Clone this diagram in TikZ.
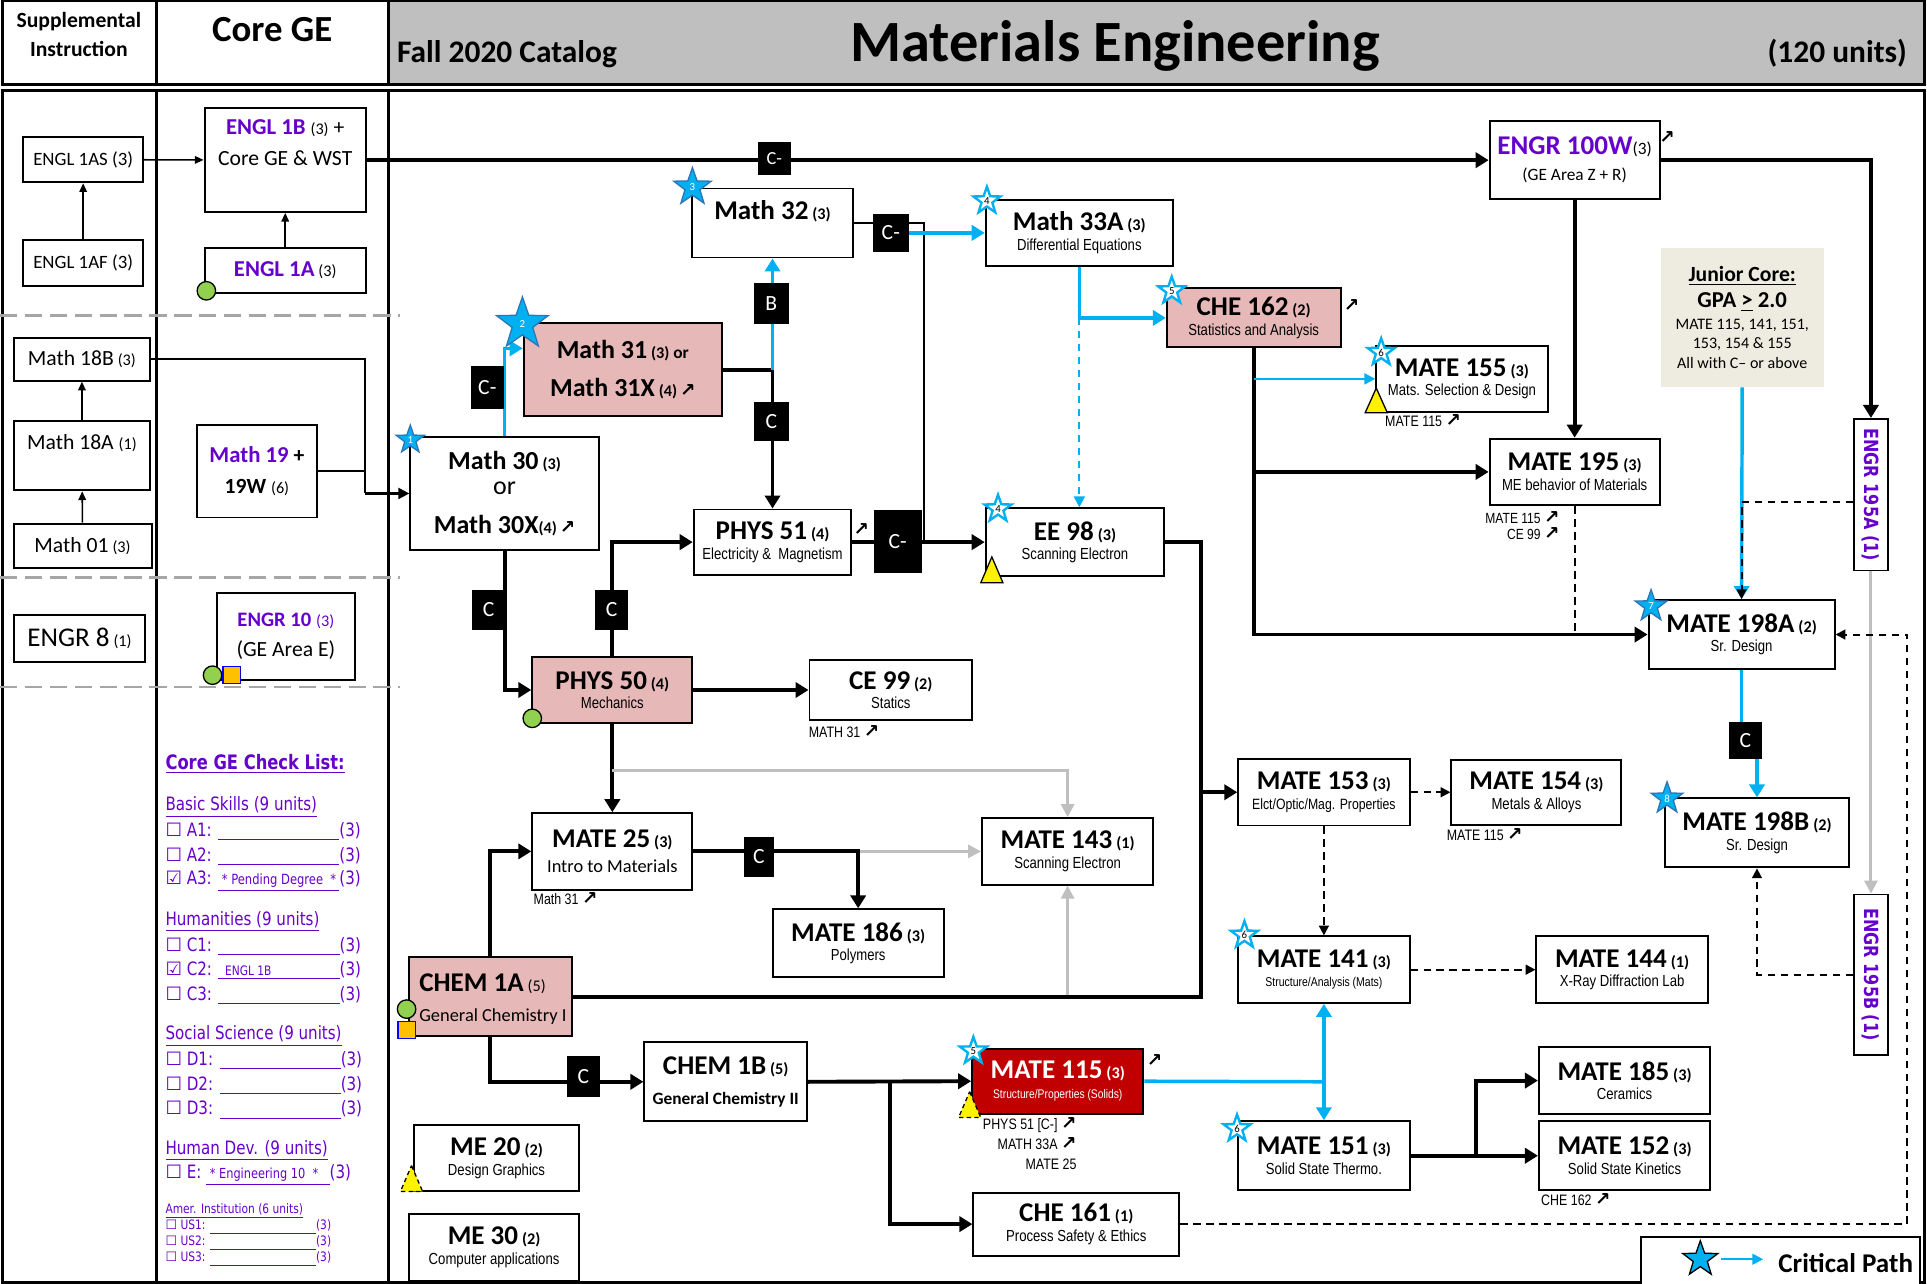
\documentclass[tikz,border=0pt]{standalone}
\usepackage{fontspec}
\setmainfont{Carlito}
\newfontfamily\narrowfont[FakeStretch=0.82]{Liberation Sans}
\newfontfamily\checkfont[FakeStretch=0.82]{DejaVu Sans}
\newfontfamily\arrowsymfont{DejaVu Sans}
\usetikzlibrary{shapes.geometric,arrows.meta}

\definecolor{hdrgray}{HTML}{BFBFBF}
\definecolor{pinkfill}{HTML}{E6B9B8}
\definecolor{redfill}{HTML}{C00000}
\definecolor{critblue}{HTML}{00B0F0}
\definecolor{stardark}{HTML}{2E75B6}
\definecolor{gepurple}{HTML}{6600CC}
\definecolor{corefill}{HTML}{EEECE1}
\definecolor{linegray}{HTML}{BFBFBF}
\definecolor{sepgray}{HTML}{A6A6A6}
\definecolor{dotgreen}{HTML}{92D050}
\definecolor{sqorange}{HTML}{FFC000}

% small helpers for the course boxes
\newcommand\upar{{\arrowsymfont\bfseries\fontsize{8.5}{8}\selectfont ↗}}
\newcommand\unitsm[1]{{\fontsize{7.5}{8}\selectfont(#1)}}
\newcommand\subttl[2][7.4]{{\narrowfont\fontsize{#1}{8}\selectfont #2}}
\newcommand\crstitle[2]{{\bfseries\fontsize{12.5}{13}\selectfont #1} {\bfseries\unitsm{#2}}}
\newcommand\crs[4][7.4]{\crstitle{#2}{#3}\\\subttl[#1]{#4}}
\newcommand\chkbox{{\arrowsymfont ☐}}
\newcommand\chkdone{{\arrowsymfont ☑}}
\newcommand\blankln[2]{\underline{\makebox[#1][l]{#2}}}

\begin{document}
\begin{tikzpicture}[
    x = 0.02cm,
    y = -0.02cm,
    box/.style = {draw, line width=0.9pt, fill=white, align=center,
              inner sep=1pt, font=\fontsize{8}{9}\selectfont},
    pinkbox/.style = {box, fill=pinkfill},
    boxsize/.style 2 args = {minimum width=#1*0.02cm, minimum height=#2*0.02cm},
    gradebox/.style = {fill=black, text=white, inner sep=0pt,
              font=\fontsize{10}{10}\selectfont},
    frame/.style = {line width=1.3pt},
    sepline/.style = {sepgray, line width=1.2pt, dash pattern=on 8pt off 3.5pt},
    thinarrow/.style = {line width=0.7pt, -{Triangle[length=4pt,width=3.5pt]}},
    medline/.style = {line width=1pt},
    medarrow/.style = {medline, -{Triangle[length=5pt,width=5pt]}},
    thickline/.style = {line width=1.8pt},
    thickarrow/.style = {thickline, -{Triangle[length=6pt,width=7pt]}},
    critline/.style = {critblue, line width=1.6pt},
    critarrow/.style = {critline, -{Triangle[length=6pt,width=7pt]}},
    critthin/.style = {critblue, line width=1pt, -{Triangle[length=5pt,width=5pt]}},
    critdash/.style = {critblue, line width=1pt, dash pattern=on 3.5pt off 2.5pt,
              -{Triangle[length=5pt,width=5pt]}},
    dashline/.style = {line width=0.9pt, dash pattern=on 3.5pt off 2.5pt},
    dasharrow/.style = {dashline, -{Triangle[length=4.5pt,width=4.5pt]}},
    grayarrow/.style = {linegray, line width=1.4pt, -{Triangle[length=6pt,width=6pt]}},
    fullstar/.style = {star, star points=5, star point ratio=2.5, fill=critblue,
              draw=stardark, line width=0.6pt, inner sep=0pt, text=white,
              font=\fontsize{5}{5}\selectfont},
    openstar/.style = {fullstar, fill=white, draw=critblue, line width=1.1pt, text=black},
    gedot/.style = {circle, fill=dotgreen, draw=black, line width=0.6pt,
              inner sep=0pt, minimum size=15*0.02cm},
    gesquare/.style = {rectangle, fill=sqorange, draw=blue, line width=0.6pt,
              inner sep=0pt, minimum size=14*0.02cm},
    warntri/.style = {fill=yellow, draw=black, line width=0.6pt},
    note/.style = {inner sep=0pt, font=\narrowfont\fontsize{7}{9.1}\selectfont},
    hdrtext/.style = {inner sep=0pt, font=\bfseries\fontsize{14.5}{15}\selectfont},
    checkitem/.style = {anchor=west, inner sep=0pt, text=gepurple,
              font=\checkfont\fontsize{8.5}{9}\selectfont},
    checksmall/.style = {checkitem, font=\checkfont\fontsize{6}{6}\selectfont},
    ]
\useasboundingbox (0,0) rectangle (1564,1042);

% header row
\fill[hdrgray] (315,0.7) rectangle (1562,68.5);
\draw[frame] (2,0.7) rectangle (1562,68.5);
\draw[frame] (127,0.7) -- (127,68.5);
\draw[frame] (315,0.7) -- (315,68.5);
\node[hdrtext, font=\bfseries\fontsize{10}{10}\selectfont, anchor=base] (supp) at (64,22) {Supplemental};
\node[hdrtext, font=\bfseries\fontsize{10}{10}\selectfont, anchor=base] (instr) at (64,46) {Instruction};
\node[hdrtext, font=\bfseries\fontsize{17}{17}\selectfont, anchor=base] (coregehdr) at (221,34) {Core GE};
\node[hdrtext, anchor=base west] (catalog) at (322,51) {Fall 2020 Catalog};
\node[hdrtext, font=\bfseries\fontsize{27}{27}\selectfont, anchor=base] (title) at (905,50) {Materials Engineering};
\node[hdrtext, anchor=base east] (units) at (1548,51) {(120 units)};

% body frame
\draw[frame] (2,73.5) rectangle (1562,1041);
\draw[frame] (127,73.5) -- (127,1041);
\draw[frame] (315,73.5) -- (315,1041);
\draw[sepline] (0,256) -- (325,256);
\draw[sepline] (0,468.5) -- (325,468.5);
\draw[sepline] (0,557.5) -- (325,557.5);

% supplemental column
\node[box, boxsize={97}{37}, font=\fontsize{8.7}{9}\selectfont] (engl1as) at (67.5,129.5) {ENGL 1AS (3)};
\node[box, boxsize={97}{37}, font=\fontsize{8.7}{9}\selectfont] (engl1af) at (67.5,213.5) {ENGL 1AF (3)};
\node[box, boxsize={111}{35}] (math18b) at (66.5,291.5) {{\fontsize{10}{10}\selectfont Math 18B} \unitsm{3}};
\node[box, boxsize={111}{56}] (math18a) at (66.5,370) {};
\node[inner sep=0pt] (math18atext) at (66.5,360) {{\fontsize{10}{10}\selectfont Math 18A} \unitsm{1}};
\node[box, boxsize={112}{36}] (math01) at (67,443) {{\fontsize{10}{10}\selectfont Math 01} \unitsm{3}};
\node[box, boxsize={107}{38}] (engr8) at (64.5,518) {{\fontsize{12.5}{13}\selectfont ENGR 8} \unitsm{1}};

% core GE column
\node[box, boxsize={131}{84}] (engl1b) at (231.5,130) {};
\node[anchor=north, align=center, inner sep=0pt, font=\fontsize{10}{14}\selectfont] (engl1btext) at (231.5,97)
    {{\color{gepurple}\bfseries\fontsize{10.5}{11}\selectfont ENGL 1B} \unitsm{3} +\\Core GE \& WST};
\node[box, boxsize={131}{37}] (engl1a) at (231.5,219.5) {{\color{gepurple}\bfseries\fontsize{10.5}{11}\selectfont ENGL 1A} \unitsm{3}};
\node[box, boxsize={97}{75}, font=\fontsize{10}{14}\selectfont] (math19) at (208.5,382.5)
    {{\color{gepurple}\bfseries\fontsize{10.5}{11}\selectfont Math 19} \textbf{+}\\\textbf{19W} \unitsm{6}};
\node[box, boxsize={112}{71}, font=\fontsize{10}{14}\selectfont] (engr10) at (232,516.5)
    {{\color{gepurple}\bfseries\fontsize{9.5}{10}\selectfont ENGR 10} {\color{gepurple}\unitsm{3}}\\(GE Area E)};

% check list
\node[checkitem, font=\checkfont\bfseries\fontsize{9.2}{9}\selectfont] (chktitle) at (134,620) {\underline{Core GE Check List:}};
\node[checkitem] (chkbasic) at (134,655) {\underline{Basic Skills (9 units)}};
\node[checkitem] (chka1) at (134,675) {\chkbox\ A1: \blankln{56pt}{}(3)};
\node[checkitem] (chka2) at (134,695) {\chkbox\ A2: \blankln{56pt}{}(3)};
\node[checkitem] (chka3) at (134,715) {\chkdone\ A3: \blankln{56pt}{\fontsize{6.5}{7}\selectfont\ * Pending Degree\ \ *}(3)};
\node[checkitem] (chkhum) at (134,748) {\underline{Humanities (9 units)}};
\node[checkitem] (chkc1) at (134,768) {\chkbox\ C1: \blankln{56pt}{}(3)};
\node[checkitem] (chkc2) at (134,788) {\chkdone\ C2: \blankln{56pt}{\fontsize{6}{6}\selectfont\ \ ENGL 1B}(3)};
\node[checkitem] (chkc3) at (134,808) {\chkbox\ C3: \blankln{56pt}{}(3)};
\node[checkitem] (chksoc) at (134,841) {\underline{Social Science (9 units)}};
\node[checkitem] (chkd1) at (134,861) {\chkbox\ D1: \blankln{56pt}{}(3)};
\node[checkitem] (chkd2) at (134,881) {\chkbox\ D2: \blankln{56pt}{}(3)};
\node[checkitem] (chkd3) at (134,901) {\chkbox\ D3: \blankln{56pt}{}(3)};
\node[checkitem] (chkhd) at (134,934) {\underline{Human Dev. (9 units)}};
\node[checkitem] (chke) at (134,954) {\chkbox\ E: \blankln{57pt}{\fontsize{6.4}{7}\selectfont\ * Engineering 10\ \ *}(3)};
\node[checksmall] (chkamer) at (134,983) {\underline{Amer. Institution (6 units)}};
\node[checksmall] (chkus1) at (134,996) {\chkbox\ US1: \blankln{49pt}{}(3)};
\node[checksmall] (chkus2) at (134,1009) {\chkbox\ US2: \blankln{49pt}{}(3)};
\node[checksmall] (chkus3) at (134,1022) {\chkbox\ US3: \blankln{49pt}{}(3)};

% course boxes
\node[box, boxsize={153}{91}, font=\fontsize{8}{11.4}\selectfont] (math30) at (409.5,400.5)
    {{\bfseries\fontsize{12}{13}\selectfont Math 30} {\bfseries\unitsm{3}}\\
     {\fontsize{12}{13}\selectfont or}\\[6.5pt]
     {\bfseries\fontsize{12}{13}\selectfont Math 30X}{\bfseries\unitsm{4}}\,\upar};
\node[pinkbox, boxsize={161}{76}, font=\fontsize{8}{17.6}\selectfont] (math31) at (505.5,300)
    {{\bfseries\fontsize{12}{13}\selectfont Math 31} {\bfseries\unitsm{3} or}\\
     {\bfseries\fontsize{12}{13}\selectfont Math 31X} {\bfseries\unitsm{4}}\,\upar};
\node[box, boxsize={131}{56}] (math32) at (627,181) {\crstitle{Math 32}{3}\\\strut};
\node[box, boxsize={152}{54}] (math33a) at (876,189) {\crs{Math 33A}{3}{Differential Equations}};
\node[pinkbox, boxsize={141}{48}] (che162) at (1017.5,258) {\crs{CHE 162}{2}{Statistics and Analysis}};
\node[box, boxsize={138}{63}, font=\fontsize{8}{12}\selectfont] (engr100w) at (1278,130)
    {{\color{gepurple}\bfseries\fontsize{12.5}{13}\selectfont ENGR 100W}{\fontsize{8}{8}\selectfont(3)}\\(GE Area Z + R)};
\node[box, boxsize={139}{53}] (mate155) at (1186.5,307.5) {\crs{MATE 155}{3}{Mats. Selection \& Design}};
\node[box, boxsize={138}{54}] (mate195) at (1278,383) {\crs{MATE 195}{3}{ME behavior of Materials}};
\node[fill=corefill, boxsize={132}{113}, align=center, inner sep=0pt, font=\fontsize{7.4}{9.1}\selectfont] (juniorcore) at (1414,257.5)
    {{\bfseries\fontsize{10}{12}\selectfont\underline{Junior Core:}}\\[2.9pt]
     {\bfseries\fontsize{10.5}{12}\selectfont GPA \underline{>} 2.0}\\[1.1pt]
     MATE 115, 141, 151,\\
     153, 154 \& 155\\
     All with C– or above};
\node[box, boxsize={27}{123}] (engr195a) at (1518.5,401.5) {};
\node[rotate=-90, inner sep=0pt, text=gepurple, font=\checkfont\bfseries\fontsize{9}{9}\selectfont] (engr195atext) at (engr195a) {ENGR 195A (1)};
\node[box, boxsize={27}{130}] (engr195b) at (1518.5,791) {};
\node[rotate=-90, inner sep=0pt, text=gepurple, font=\checkfont\bfseries\fontsize{9}{9}\selectfont] (engr195btext) at (engr195b) {ENGR 195B (1)};
\node[box, boxsize={151}{56}] (mate198a) at (1413.5,515) {\crs{MATE 198A}{2}{Sr. Design}};
\node[box, boxsize={150}{56}] (mate198b) at (1426,676) {\crs{MATE 198B}{2}{Sr. Design}};
\node[box, boxsize={128}{53}] (phys51) at (627,440) {\crs{PHYS 51}{4}{Electricity \&\ \ Magnetism}};
\node[box, boxsize={145}{55}] (ee98) at (872.5,440) {\crs{EE 98}{3}{Scanning Electron}};
\node[pinkbox, boxsize={130}{54}] (phys50) at (497,560) {\crs{PHYS 50}{4}{Mechanics}};
\node[box, boxsize={132}{49}] (ce99) at (723,560) {\crs{CE 99}{2}{Statics}};
\node[box, boxsize={130}{62}, font=\fontsize{8}{11.4}\selectfont] (mate25) at (497,691)
    {\crstitle{MATE 25}{3}\\{\fontsize{8.5}{9}\selectfont Intro to Materials}};
\node[box, boxsize={139}{54}] (mate143) at (866.5,691) {\crs{MATE 143}{1}{Scanning Electron}};
\node[box, boxsize={139}{55}] (mate186) at (696.5,765.5) {\crs{MATE 186}{3}{Polymers}};
\node[pinkbox, boxsize={132}{64}] (chem1a) at (398,809) {};
\node[anchor=west, align=left, inner sep=0pt, font=\fontsize{8}{13.7}\selectfont] (chem1atext) at (340,811)
    {{\bfseries\fontsize{12.5}{13}\selectfont CHEM 1A} \unitsm{5}\\{\fontsize{8.5}{9}\selectfont General Chemistry I}};
\node[box, boxsize={132}{64}, font=\fontsize{8}{14}\selectfont] (chem1b) at (589,878)
    {\crstitle{CHEM 1B}{5}\\{\bfseries\fontsize{8}{9}\selectfont General Chemistry II}};
\node[box, fill=redfill, text=white, boxsize={139}{53}] (mate115) at (858.5,877.5) {\crs[5.8]{MATE 115}{3}{Structure/Properties (Solids)}};
\node[box, boxsize={139}{54}] (mate153) at (1074.5,643) {\crs[6.9]{MATE 153}{3}{Elct/Optic/Mag. Properties}};
\node[box, boxsize={138}{53}] (mate154) at (1247,643) {\crs{MATE 154}{3}{Metals \& Alloys}};
\node[box, boxsize={139}{54}] (mate141) at (1074.5,787) {\crs[5.9]{MATE 141}{3}{Structure/Analysis (Mats)}};
\node[box, boxsize={139}{54}] (mate144) at (1316.5,787) {\crs{MATE 144}{1}{X-Ray Diffraction Lab}};
\node[box, boxsize={139}{56}] (mate151) at (1074.5,938) {\crs{MATE 151}{3}{Solid State Thermo.}};
\node[box, boxsize={139}{54}] (mate185) at (1318.5,877) {\crs{MATE 185}{3}{Ceramics}};
\node[box, boxsize={139}{56}] (mate152) at (1318.5,938) {\crs{MATE 152}{3}{Solid State Kinetics}};
\node[box, boxsize={167}{51}] (che161) at (873.5,993.5) {\crs{CHE 161}{1}{Process Safety \& Ethics}};
\node[box, boxsize={134}{54}] (me20) at (403,940) {\crs{ME 20}{2}{Design Graphics}};
\node[box, boxsize={138}{55}] (me30) at (401,1012.5) {\crs{ME 30}{2}{Computer applications}};

% prerequisite notes
\node[note] (che162arrow) at (1097,248) {\upar};
\node[note] (engr100warrow) at (1353,112) {\upar};
\node[note] (phys51arrow) at (699,430) {\upar};
\node[note] (mate115arrow) at (937,861) {\upar};
\node[note] (mate155note) at (1155,341) {MATE 115 \upar};
\node[note, align=right, anchor=north east, font=\narrowfont\fontsize{6.8}{7.1}\selectfont] (mate195note) at (1266,415) {MATE 115 \upar\\CE 99 \upar};
\node[note] (ce99note) at (685,594) {MATH 31 \upar};
\node[note] (mate25note) at (459,729) {Math 31 \upar};
\node[note, align=right, anchor=north east] (mate115note) at (874,907) {PHYS 51 [C-] \upar\\MATH 33A \upar\\MATE 25};
\node[note] (mate154note) at (1205,677) {MATE 115 \upar};
\node[note] (mate152note) at (1279,974) {CHE 162 \upar};

% connectors
\draw[thinarrow] (engl1af) -- (engl1as);
\draw[thinarrow] (engl1as) -- (engl1b);
\draw[thinarrow] (engl1a) -- (engl1b);
\draw[thinarrow] (math18a) -- (math18b);
\draw[thinarrow] (math01) -- (math18a);
\coordinate (join30) at (296,400.5);
\draw[medline] (math18b.east) -| (join30);
\draw[medline] (math19.east) -| (join30);
\draw[medarrow] (join30) -- (math30.west);
\draw[thickarrow] (engl1b.east) -- (engr100w.west);
\draw[critarrow] (math30.north) |- (math31.168);
\coordinate (join31) at (627,300);
\draw[thickline] (math31.east) -- (join31);
\draw[critarrow] (join31) -- (math32.south);
\draw[thickarrow] (join31) -- (phys51.north);
\coordinate (join32) at (750,181);
\coordinate (join51) at (750,440);
\draw[medline] (math32.east) -- (join32) -- (join51);
\draw[thickarrow] (phys51.east) -- (ee98.west);
\draw[critarrow] (math33a.south) |- (che162.west);
\coordinate (join33) at (876,258);
\draw[critdash] (join33) -- (join33 |- ee98.north);
\draw[thickarrow] (che162.south) |- (mate198a.west);
\draw[thickarrow] (che162.south |- mate195.west) -- (mate195.west);
\draw[critthin] (che162.south |- mate155.west) -- (mate155.west);
\draw[thickarrow] (engr100w.south) -- (mate195.north);
\draw[thickarrow] (engr100w.east) -| (engr195a.north);
\draw[dashline] (mate195.south) -- (mate195.south |- mate198a.west);
\draw[critarrow] (juniorcore.south) -- (mate198a.north);
\draw[dasharrow] (engr195a.202) -| (mate198a.north);
\draw[grayarrow] (engr195a.south) -- (engr195b.north);
\coordinate (join198) at (1413.5,601);
\draw[critline] (mate198a.south) -- (join198);
\draw[critarrow] (join198 -| mate198b.north) -- (mate198b.north);
\draw[dasharrow] (engr195b.west) -| (mate198b.south);
\coordinate (joinright) at (1548,515);
\draw[dasharrow] (che161.east) -| (joinright) -- (mate198a.east);
\draw[thickarrow] (math30.south) |- (phys50.west);
\draw[thickarrow] (phys50.north) |- (phys51.west);
\draw[thickarrow] (phys50.east) -- (ce99.west);
\draw[thickarrow] (phys50.south) -- (mate25.north);
\coordinate (joingray) at (497,625);
\draw[grayarrow] (joingray) -| (mate143.north);
\draw[grayarrow] (mate186.north |- mate25.east) -- (mate143.west);
\draw[thickarrow] (mate25.east) -| (mate186.north);
\draw[thickarrow] (chem1a.north) |- (mate25.west);
\draw[grayarrow] (mate143.south |- chem1a.east) -- (mate143.south);
\coordinate (joinmid) at (975,643);
\draw[thickline] (ee98.east) -| (joinmid);
\draw[thickline] (chem1a.east) -| (joinmid);
\draw[thickarrow] (joinmid) -- (mate153.west);
\draw[thickarrow] (chem1a.south) |- (chem1b.west);
\coordinate (join1b) at (722,878);
\draw[thickarrow] (chem1b.east) -- (mate115.west);
\draw[thickarrow] (join1b) |- (che161.west);
\coordinate (join115) at (1074.5,878);
\draw[critline] (mate115.east) -- (join115);
\draw[critarrow] (join115) -- (mate141.south);
\draw[critarrow] (join115) -- (mate151.north);
\draw[dasharrow] (mate153.east) -- (mate154.west);
\draw[dasharrow] (mate153.south) -- (mate141.north);
\draw[dasharrow] (mate141.east) -- (mate144.west);
\coordinate (join151) at (1198,938);
\draw[thickarrow] (mate151.east) -- (mate152.west);
\draw[thickarrow] (join151) |- (mate185.west);

% grade boxes on the connectors
\node[gradebox, boxsize={27}{27}, font=\fontsize{8.5}{9}\selectfont] (cengl1b) at (628.5,128.5) {C-};
\node[gradebox, boxsize={27}{35}] (cmath30) at (395.5,314.5) {C-};
\node[gradebox, boxsize={28}{33}] (bmath32) at (626,246.5) {B};
\node[gradebox, boxsize={28}{32}] (cphys51) at (626,342) {C};
\node[gradebox, boxsize={29}{31}] (cmath32) at (723,189) {C-};
\draw[critarrow] (cmath32.east) -- (math33a.west);
\node[gradebox, boxsize={39}{51}] (cee98) at (728.5,439.5) {C-};
\node[gradebox, boxsize={27}{32}] (cphys50a) at (396.5,495) {C};
\node[gradebox, boxsize={27}{32}] (cphys50b) at (496.5,495) {C};
\node[gradebox, boxsize={24}{33}] (cmate25) at (616,695.5) {C};
\node[gradebox, boxsize={27}{33}] (cchem1b) at (473.5,873.5) {C};
\node[gradebox, boxsize={27}{30}] (cmate198) at (1416.5,601) {C};

% critical path stars
\node[fullstar, minimum size=24*0.02cm] (star1) at (333,357) {1};
\node[fullstar, minimum size=44*0.02cm] (star2) at (424,263) {2};
\node[fullstar, minimum size=32*0.02cm] (star3) at (562,152) {3};
\node[openstar, minimum size=23*0.02cm] (star4a) at (801,163) {4};
\node[openstar, minimum size=23*0.02cm] (star5a) at (951,236) {5};
\node[openstar, minimum size=23*0.02cm] (star6a) at (1121,286) {6};
\node[openstar, minimum size=23*0.02cm] (star4b) at (810,413) {4};
\node[fullstar, minimum size=27*0.02cm] (star7) at (1340,492) {7};
\node[fullstar, minimum size=27*0.02cm] (star8) at (1353,648) {8};
\node[openstar, minimum size=23*0.02cm] (star6b) at (1010,759) {6};
\node[openstar, minimum size=23*0.02cm] (star6c) at (1004,916) {6};
\node[openstar, minimum size=23*0.02cm] (star5b) at (790,853) {5};

% GE markers
\node[gedot] (dotengl1a) at (167.5,236) {};
\node[gedot] (dotengr10) at (172.5,548) {};
\node[gesquare] (sqengr10) at (188,548) {};
\node[gedot] (dotphys50) at (432,583) {};
\node[gedot] (dotchem1a) at (330,819) {};
\node[gesquare] (sqchem1a) at (330,836) {};
\draw[warntri] (1117,315) -- (1126,335) -- (1108,335) -- cycle;
\draw[warntri] (805,452) -- (814,473) -- (796,473) -- cycle;
\draw[warntri, dash pattern=on 2pt off 1.5pt] (787,886) -- (796,907) -- (778,907) -- cycle;
\draw[warntri, dash pattern=on 2pt off 1.5pt] (334,946) -- (343,967) -- (325,967) -- cycle;

% legend
\node[box, boxsize={226}{39}] (legend) at (1445,1023.5) {};
\node[fullstar, draw=black, minimum size=30*0.02cm] (legendstar) at (1380,1022) {};
\coordinate (legendfrom) at (1397,1022);
\coordinate (legendto) at (1431,1022);
\draw[critthin] (legendfrom) -- (legendto);
\node[inner sep=0pt, font=\bfseries\fontsize{12.5}{13}\selectfont] (legendtext) at (1498,1025) {Critical Path};

\end{tikzpicture}
\end{document}
